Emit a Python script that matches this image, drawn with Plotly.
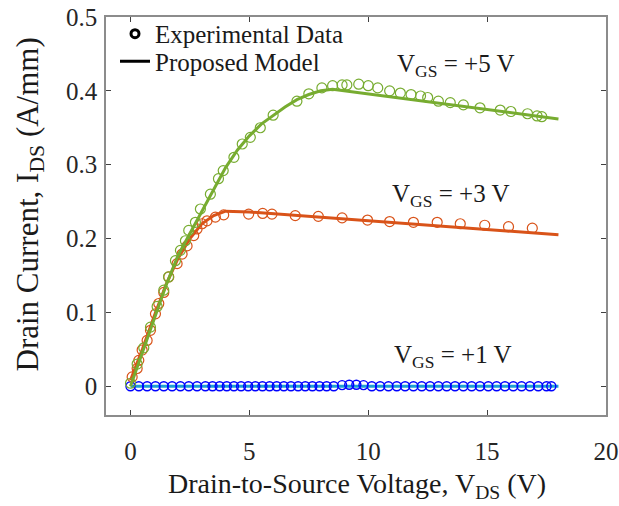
import plotly.graph_objects as go

# ---------------- data ----------------
# VGS = +5 V
g_exp_x = [0.0, 0.28, 0.56, 0.84, 1.12, 1.4, 1.6, 1.89, 2.1, 2.31, 2.45, 2.73, 2.94, 3.36, 3.7, 3.9,
           4.35, 4.7, 5.04, 5.46, 6.0, 7.0, 7.5, 8.05, 8.5, 8.9, 9.1, 9.6, 10.0, 10.4, 10.9, 11.35,
           11.8, 12.2, 12.5, 12.95, 13.45, 14.0, 14.7, 15.55, 16.0, 16.7, 17.1, 17.3]
g_exp_y = [0.004, 0.03, 0.052, 0.08, 0.108, 0.13, 0.148, 0.17, 0.184, 0.197, 0.211, 0.222, 0.24, 0.26,
           0.281, 0.292, 0.31, 0.328, 0.337, 0.35, 0.367, 0.386, 0.396, 0.404, 0.407, 0.408, 0.408,
           0.409, 0.407, 0.404, 0.4, 0.397, 0.395, 0.393, 0.391, 0.386, 0.384, 0.381, 0.377, 0.374,
           0.372, 0.369, 0.366, 0.365]
g_mod_x = [0, 0.5, 1, 1.5, 2, 2.5, 3, 3.5, 4, 4.5, 5, 5.5, 6, 6.5, 7, 7.5, 8, 8.5, 18]
g_mod_y = [0, 0.046, 0.093, 0.137, 0.177, 0.207, 0.237, 0.267, 0.296, 0.32, 0.339, 0.355, 0.367,
           0.378, 0.388, 0.395, 0.4, 0.402, 0.362]

# VGS = +3 V
o_exp_x = [0.07, 0.28, 0.35, 0.49, 0.7, 0.84, 1.05, 1.19, 1.4, 1.61, 1.96, 2.17, 2.38, 2.66, 2.8,
           3.01, 3.22, 3.57, 3.92, 4.97, 5.56, 5.95, 6.93, 7.9, 8.9, 9.97, 10.9, 11.9, 12.9, 13.87,
           14.9, 15.9, 16.9]
o_exp_y = [0.0126, 0.024, 0.035, 0.049, 0.062, 0.0757, 0.098, 0.112, 0.127, 0.148, 0.166, 0.179,
           0.19, 0.204, 0.213, 0.22, 0.224, 0.229, 0.232, 0.233, 0.234, 0.233, 0.231, 0.23, 0.228,
           0.225, 0.223, 0.222, 0.222, 0.22, 0.218, 0.216, 0.214]
o_mod_x = [0, 0.5, 1, 1.5, 2, 2.5, 3, 3.5, 4, 5, 18]
o_mod_y = [0.008, 0.05, 0.095, 0.138, 0.173, 0.2, 0.22, 0.231, 0.237, 0.236, 0.205]

# VGS = +1 V
b_exp_x = [0.0, 0.35, 0.7, 1.05, 1.4, 1.75, 2.1, 2.45, 2.8, 3.15, 3.45, 3.75, 4.05, 4.35, 4.65,
           4.95, 5.25, 5.55, 5.85, 6.15, 6.45, 6.75, 7.05, 7.35, 7.65, 7.95, 8.25, 8.55, 8.9, 9.2,
           9.5, 9.8, 10.15, 10.5, 10.85, 11.2, 11.55, 11.9, 12.25, 12.6, 12.95, 13.3, 13.65, 14.0,
           14.35, 14.7, 15.05, 15.4, 15.75, 16.1, 16.45, 16.8, 17.15, 17.5, 17.7]
b_exp_y = [0, 0, 0, 0, 0, 0, 0, 0, 0, 0, 0, 0, 0, 0, 0, 0, 0, 0, 0, 0, 0, 0, 0, 0, 0, 0, 0, 0,
           0.0015, 0.002, 0.002, 0.0015, 0, 0, 0, 0, 0, 0, 0, 0, 0, 0, 0, 0, 0, 0, 0, 0, 0, 0, 0,
           0, 0, 0, 0]
b_mod_x = [0, 18]
b_mod_y = [0, 0]

x_ticks = [0, 5, 10, 15, 20]
y_ticks = [0, 0.1, 0.2, 0.3, 0.4, 0.5]
y_tick_text = ["0", "0.1", "0.2", "0.3", "0.4", "0.5"]

series_labels = ["+5 V", "+3 V", "+1 V"]

GREEN = "#77ac30"
ORANGE = "#d95319"
BLUE = "#0000ff"
CYAN = "#1f9fd5"
FONT = "Liberation Serif, Times New Roman, serif"
TXT = "#1a1a1a"

fig = go.Figure()

def add_series(mx, my, ex, ey, lcolor, mcolor, msize, mlw):
    fig.add_trace(go.Scatter(x=mx, y=my, mode="lines", line=dict(color=lcolor, width=3),
                             showlegend=False, hoverinfo="skip"))
    fig.add_trace(go.Scatter(x=ex, y=ey, mode="markers",
                             marker=dict(symbol="circle-open", size=msize, color=mcolor,
                                         line=dict(width=mlw, color=mcolor)),
                             showlegend=False))

add_series(b_mod_x, b_mod_y, b_exp_x, b_exp_y, CYAN, BLUE, 9, 1.4)
add_series(o_mod_x, o_mod_y, o_exp_x, o_exp_y, ORANGE, ORANGE, 10, 1.2)
add_series(g_mod_x, g_mod_y, g_exp_x, g_exp_y, GREEN, GREEN, 10, 1.2)

# legend entries (two separate legends for exact row spacing)
fig.add_trace(go.Scatter(x=[None], y=[None], mode="markers", name="Experimental Data",
                         legend="legend",
                         marker=dict(symbol="circle-open", size=8, color="black",
                                     line=dict(width=3, color="black"))))
fig.add_trace(go.Scatter(x=[None], y=[None], mode="lines", name="Proposed Model",
                         legend="legend2",
                         line=dict(color="black", width=3)))

label_pos = [(13.7, 0.435), (13.5, 0.258), (13.55, 0.04)]
for (lx, ly), t in zip(label_pos, series_labels):
    fig.add_annotation(x=lx, y=ly, xref="x", yref="y", showarrow=False,
                       text="V<sub>GS</sub> = " + t,
                       font=dict(family=FONT, size=25, color=TXT))

# axis titles
fig.add_annotation(x=0.502, y=-0.178, xref="paper", yref="paper", showarrow=False,
                   text="Drain-to-Source Voltage, V<sub>DS</sub> (V)",
                   font=dict(family=FONT, size=28, color=TXT), xanchor="center", yanchor="middle")
fig.add_annotation(x=-0.152, y=0.529, xref="paper", yref="paper", showarrow=False,
                   text="Drain Current, I<sub>DS</sub> (A/mm)", textangle=-90,
                   font=dict(family=FONT, size=31, color=TXT), xanchor="center", yanchor="middle")

axis_common = dict(showline=True, linecolor="#8c8c8c", linewidth=1.5, mirror="ticks",
                   ticks="inside", ticklen=5, tickcolor="#404040", showgrid=False, zeroline=False,
                   automargin=False,
                   tickfont=dict(family=FONT, size=25, color="#262626"))

legend_common = dict(xanchor="left", yanchor="middle", bgcolor="rgba(0,0,0,0)",
                     font=dict(family=FONT, size=25, color=TXT), itemwidth=30,
                     borderwidth=0)

fig.update_layout(
    width=619, height=506,
    font=dict(family=FONT, color=TXT),
    margin=dict(l=106, r=13, t=16, b=91),
    plot_bgcolor="white", paper_bgcolor="white",
    xaxis=dict(range=[-1.03, 20], tickvals=x_ticks, ticklabelstandoff=13, **axis_common),
    yaxis=dict(range=[-0.039, 0.5], tickvals=y_ticks, ticktext=y_tick_text,
               ticklabelstandoff=2, **axis_common),
    legend=dict(x=0.018, y=0.955, **legend_common),
    legend2=dict(x=0.018, y=0.886, **legend_common),
    showlegend=True,
)

fig.write_html("out.html")
